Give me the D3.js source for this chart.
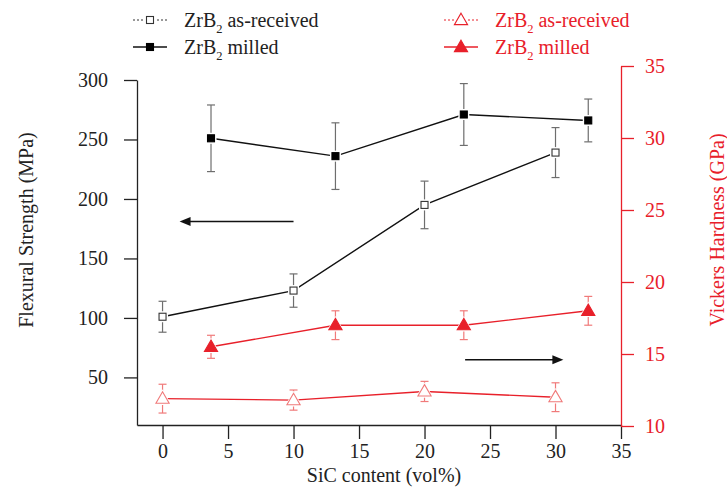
<!DOCTYPE html>
<html>
<head>
<meta charset="utf-8">
<script src="https://cdn.jsdelivr.net/npm/d3@7"></script>
<style>
  html, body { margin: 0; padding: 0; background: #fff; }
  svg { display: block; }
  svg text { font-family: "Liberation Serif", "DejaVu Serif", serif; }
</style>
</head>
<body>
<svg id="chart" width="727" height="489"></svg>
<script>
// SiC content (vol%) for each powder type
const sicAsReceived = [0, 10, 20, 30];
const sicMilled = [3.7, 13.2, 23.0, 32.5];

// Flexural strength (MPa) and standard deviation
const strengthAsReceived = [101, 123, 195, 239];
const strengthAsReceivedErr = [13, 14, 20, 21];
const strengthMilled = [251, 236, 271, 266];
const strengthMilledErr = [28, 28, 26, 18];

// Vickers hardness (GPa) and standard deviation
const hardnessAsReceived = [11.9, 11.8, 12.4, 12.0];
const hardnessAsReceivedErr = [1.0, 0.7, 0.7, 1.0];
const hardnessMilled = [15.5, 17.0, 17.0, 18.0];
const hardnessMilledErr = [0.8, 1.0, 1.0, 1.0];

// Tick values
const xTicks = [0, 5, 10, 15, 20, 25, 30, 35];
const leftTicks = [50, 100, 150, 200, 250, 300];
const rightTicks = [10, 15, 20, 25, 30, 35];

// Arrows pointing to the axis each group belongs to: [x0, x1, value]
const arrowLeft = [10, 1.3, 181];
const arrowRight = [23.1, 30.6, 14.6];

const RED = "#e8202a";
const RED_LIGHT = "#f07a7a";
const GREY = "#6e6e6e";
const FS = 20;

const svg = d3.select("#chart");

const x = d3.scaleLinear().domain([-1.95, 35]).range([137, 621]);
const yL = d3.scaleLinear().domain([10, 300]).range([425, 80]);
const yR = d3.scaleLinear().domain([10, 35]).range([426, 66]);

function styleAxis(g, color) {
  g.attr("font-family", null).attr("font-size", FS);
  g.select(".domain").attr("stroke", color).attr("stroke-width", 1.3);
  g.selectAll(".tick line").attr("stroke", color).attr("stroke-width", 1.3);
  g.selectAll("text").attr("fill", color);
}

// Axes
const xAxis = svg.append("g").attr("transform", "translate(0,425)")
  .call(d3.axisBottom(x).tickValues(xTicks).tickSize(14).tickPadding(5).tickSizeOuter(0));
styleAxis(xAxis, "#222");

const lAxis = svg.append("g").attr("transform", "translate(137,0)")
  .call(d3.axisLeft(yL).tickValues(leftTicks).tickSize(13).tickPadding(16).tickSizeOuter(0));
styleAxis(lAxis, "#222");

const rAxis = svg.append("g").attr("transform", "translate(621,0)")
  .call(d3.axisRight(yR).tickValues(rightTicks).tickSize(13).tickPadding(11).tickSizeOuter(0));
styleAxis(rAxis, RED);

// Axis titles
svg.append("text").attr("x", 384).attr("y", 482).attr("text-anchor", "middle")
  .attr("font-size", FS).attr("fill", "#222").text("SiC content (vol%)");
svg.append("text").attr("transform", "translate(33,230) rotate(-90)").attr("text-anchor", "middle")
  .attr("font-size", FS).attr("fill", "#222").text("Flexural Strength (MPa)");
svg.append("text").attr("transform", "translate(724,230) rotate(-90)").attr("text-anchor", "middle")
  .attr("font-size", FS).attr("fill", RED).text("Vickers Hardness (GPa)");

// Series definitions
const series = [
  { xs: sicAsReceived, ys: hardnessAsReceived, err: hardnessAsReceivedErr, y: yR,
    line: RED, errColor: RED_LIGHT, marker: "triangle", fill: "#fff", stroke: RED_LIGHT },
  { xs: sicMilled, ys: hardnessMilled, err: hardnessMilledErr, y: yR,
    line: RED, errColor: RED_LIGHT, marker: "triangle", fill: RED, stroke: RED },
  { xs: sicAsReceived, ys: strengthAsReceived, err: strengthAsReceivedErr, y: yL,
    line: "#111", errColor: GREY, marker: "square", fill: "#fff", stroke: "#333" },
  { xs: sicMilled, ys: strengthMilled, err: strengthMilledErr, y: yL,
    line: "#111", errColor: GREY, marker: "square", fill: "#000", stroke: "#000" }
];

const triPath = (cx, cy, s) => `M${cx},${cy - s * 0.62}L${cx + s * 0.6},${cy + s * 0.42}L${cx - s * 0.6},${cy + s * 0.42}Z`;

function drawMarker(g, type, cx, cy, fill, stroke, halo) {
  if (type === "square") {
    const s = 7;
    if (halo) g.append("rect").attr("x", cx - s / 2 - 2).attr("y", cy - s / 2 - 2)
      .attr("width", s + 4).attr("height", s + 4).attr("fill", "#fff");
    g.append("rect").attr("x", cx - s / 2).attr("y", cy - s / 2).attr("width", s).attr("height", s)
      .attr("fill", fill).attr("stroke", stroke).attr("stroke-width", 1.1);
  } else {
    const s = 11;
    if (halo) g.append("path").attr("d", triPath(cx, cy, s + 4)).attr("fill", "#fff");
    g.append("path").attr("d", triPath(cx, cy, s))
      .attr("fill", fill).attr("stroke", stroke).attr("stroke-width", 1.1);
  }
}

const plot = svg.append("g");
series.forEach(s => {
  const pts = s.xs.map((v, i) => [x(v), s.y(s.ys[i])]);
  plot.append("path").attr("d", d3.line()(pts)).attr("fill", "none")
    .attr("stroke", s.line).attr("stroke-width", 1.4);
  const g = plot.append("g");
  s.xs.forEach((v, i) => {
    const cx = x(v);
    const y0 = s.y(s.ys[i] - s.err[i]);
    const y1 = s.y(s.ys[i] + s.err[i]);
    g.append("line").attr("x1", cx).attr("x2", cx).attr("y1", y0).attr("y2", y1)
      .attr("stroke", s.errColor).attr("stroke-width", 1.2);
    [y0, y1].forEach(yy => g.append("line").attr("x1", cx - 4).attr("x2", cx + 4)
      .attr("y1", yy).attr("y2", yy).attr("stroke", s.errColor).attr("stroke-width", 1.2));
    drawMarker(g, s.marker, cx, s.y(s.ys[i]), s.fill, s.stroke, true);
  });
});

// Arrows
function arrow(a, yScale) {
  const x0 = x(a[0]), x1 = x(a[1]), yy = yScale(a[2]);
  const dir = Math.sign(x1 - x0);
  svg.append("line").attr("x1", x0).attr("x2", x1 - dir * 8).attr("y1", yy).attr("y2", yy)
    .attr("stroke", "#111").attr("stroke-width", 1.6);
  svg.append("path")
    .attr("d", `M${x1},${yy}L${x1 - dir * 11},${yy - 4.5}L${x1 - dir * 11},${yy + 4.5}Z`)
    .attr("fill", "#111");
}
arrow(arrowLeft, yL);
arrow(arrowRight, yR);

// Legend
const legendItems = [
  { x: 133, y: 20, dash: "2,2", line: "#333", marker: "square", fill: "#fff", stroke: "#333", color: "#222", label: " as-received" },
  { x: 133, y: 47, dash: null, line: "#111", marker: "square", fill: "#000", stroke: "#000", color: "#222", label: " milled" },
  { x: 444, y: 20, dash: "2,2", line: RED, marker: "triangle", fill: "#fff", stroke: RED, color: RED, label: " as-received" },
  { x: 444, y: 47, dash: null, line: RED, marker: "triangle", fill: RED, stroke: RED, color: RED, label: " milled" }
];
const legend = svg.append("g");
legendItems.forEach(it => {
  legend.append("line").attr("x1", it.x).attr("x2", it.x + 34).attr("y1", it.y).attr("y2", it.y)
    .attr("stroke", it.line).attr("stroke-width", it.dash ? 1 : 1.4)
    .attr("stroke-dasharray", it.dash);
  drawMarker(legend, it.marker, it.x + 17, it.y, it.fill, it.stroke, !!it.dash);
  const t = legend.append("text").attr("x", it.x + 51).attr("y", it.y + 6.5)
    .attr("font-size", FS).attr("fill", it.color);
  t.append("tspan").text("ZrB");
  t.append("tspan").attr("font-size", 12.5).attr("dy", 6).text("2");
  t.append("tspan").attr("dy", -6).text(it.label);
});
</script>
</body>
</html>
